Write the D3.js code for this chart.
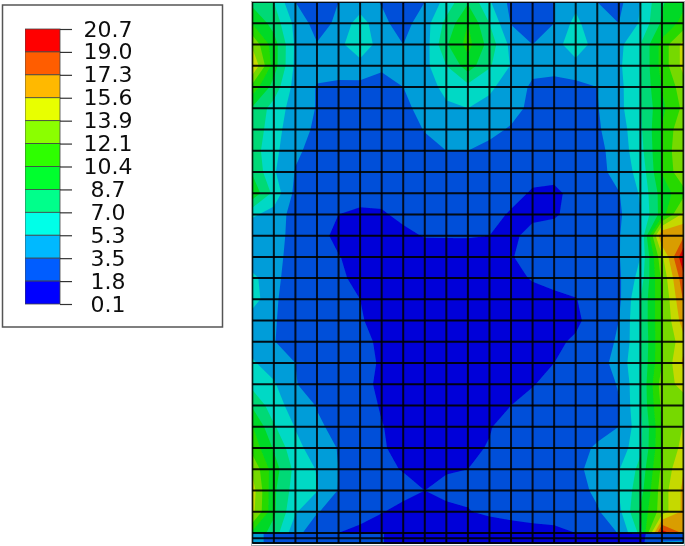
<!DOCTYPE html>
<html><head><meta charset="utf-8">
<script src="https://cdn.jsdelivr.net/npm/d3@7"></script>
<style>html,body{margin:0;padding:0;background:#fff}svg{display:block}</style>
</head><body><svg id="c" width="685" height="546"></svg>
<script>
// contour levels (legend, top to bottom)
const tickLabels = ["20.7","19.0","17.3","15.6","13.9","12.1","10.4","8.7","7.0","5.3","3.5","1.8","0.1"];
const bandColors = ["#FF0000","#FF5D00","#FFB900","#E8FF00","#8BFF00","#2EFF00","#00FF2E","#00FF8B","#00FFE8","#00B9FF","#005DFF","#0000FF"];
const levels = tickLabels.map(Number).reverse();
// mesh node positions, in element units
const columnNodes = d3.range(21);
const rowNodes = [...d3.range(26), 25.03, 25.48];
// nodal values, one row per mesh line
const nodalValues = [
[8.2,7.0,3.5,2.8,3.5,4.2,3.4,1.7,3.5,6.0,8.5,5.5,3.0,1.7,3.5,4.7,3.5,3.0,5.3,8.5,10],
[10.3,8,4.8,2.7,3.9,6.2,3.9,2.8,4.5,7.5,10.4,7.0,3.4,2.5,3.5,5.9,3.5,3.5,5.5,9,11],
[13.5,9.5,5.0,3.6,4.8,6.6,4.4,3.5,4.4,8.5,11,8,4.8,3.5,4.5,6.5,4.4,4.8,7,11,14.5],
[15.8,9.5,4.9,4.0,4.1,4.6,3.9,3.6,4.8,7,9.6,7.2,5.2,4,4,4.6,4.2,5,7,11,14.5],
[11.5,8,4.6,3.4,3.2,3.0,2.6,3.5,4.5,5.8,6.5,5.6,4.5,3.2,3.0,3.0,3.5,4.8,7,10.5,13],
[8.5,6.3,4.5,3.4,2.8,2.7,2.6,3.0,4.2,5.0,5.3,4.8,4.2,3.0,2.7,2.8,3.4,4.8,6.9,10,12.5],
[8.2,6,4.2,3.2,2.6,2.5,2.4,2.6,3.6,4.5,4.5,4.0,3.3,2.6,2.5,2.6,3.3,4.4,6.7,10.5,13.5],
[7.8,5.8,3.8,2.9,2.5,2.4,2.3,2.4,2.9,3.5,3.5,3.0,2.6,2.3,2.3,2.4,3.0,4.3,6.4,10.5,14],
[8.5,5.5,3.4,2.6,2.4,2.3,2.2,2.2,2.3,2.6,2.7,2.5,2.3,2.1,2.1,2.2,2.7,4.4,5.8,10.5,13.5],
[10,6.5,3.0,2.5,2.3,2.2,2.1,2.2,2.2,2.3,2.3,2.3,2.1,1.7,1.6,2.1,2.5,3.4,5.5,9.5,11.5],
[5.6,4.6,2.7,2.3,1.8,1.6,1.7,2.0,2.2,2.3,2.2,2.1,1.7,1.6,1.7,2.1,2.6,3.2,5.2,9.5,14.5],
[3.8,4.4,2.7,2.2,1.5,1.4,1.5,1.6,1.85,1.85,1.85,1.8,1.6,2.1,2.2,2.3,2.7,3.4,5.0,17.5,17],
[4.0,4.2,2.6,2.2,1.85,1.4,1.3,1.3,1.35,1.4,1.45,1.45,1.75,2.1,2.2,2.3,2.7,3.4,5.3,13.5,20.5],
[5.8,4,2.5,2.1,2.0,1.5,1.2,1.2,1.2,1.25,1.3,1.35,1.45,1.9,2.2,2.3,2.6,3.2,6,12.5,18.5],
[6.2,3.8,2.4,2.1,2.0,1.8,1.1,1.1,1.1,1.1,1.1,1.1,1.2,1.3,1.5,1.75,2.4,3.1,7,12,17.5],
[4.2,3.7,2.3,2.1,2.0,1.9,1.4,1.1,1.1,1.0,1.0,1.0,1.1,1.2,1.3,1.6,2.3,3.5,7,12,16.5],
[4.6,3.6,2.3,2.1,2.0,1.95,1.7,1.2,1.1,1.0,1.0,1.05,1.15,1.3,1.6,1.95,2.4,3.8,6.8,12,15],
[5.5,4.5,3.5,2.5,2.2,2.1,1.7,1.3,1.2,1.1,1.1,1.2,1.4,1.6,1.8,2.2,2.7,4.2,7,12,16],
[6.5,5.5,3.6,2.6,2.2,2.1,1.6,1.2,1.1,1.1,1.3,1.4,1.55,1.75,2.1,2.3,2.8,3.6,7,13,14.5],
[8.5,6,4.6,3.4,2.5,2.3,1.7,1.3,1.2,1.3,1.4,1.55,1.8,2.1,2.2,2.3,2.7,3.4,7,12.5,13],
[10.5,7.2,5.2,3.8,3.0,2.5,1.85,1.4,1.4,1.5,1.6,1.75,2.1,2.3,2.4,2.6,3.0,3.5,6.5,12,14],
[11.5,8.5,5.8,4.5,3.4,2.6,1.9,1.5,1.55,1.6,1.65,1.85,2.2,2.4,2.6,3.0,3.7,4.2,6.7,12,14.5],
[13.5,9.5,6.5,5.2,3.5,2.6,2.0,1.75,1.7,1.7,1.8,2.1,2.3,2.5,2.7,3.2,4.0,5.2,7.5,12.5,15.5],
[14.8,9,6.2,5.4,3.4,2.5,2.3,2.1,1.8,2.1,2.0,2.1,2.2,2.3,2.5,2.8,3.9,5.4,8,13,16],
[14.5,9,5.5,3.6,2.8,2.4,1.85,1.5,1.3,1.5,1.75,2.0,2.2,2.4,2.5,2.6,3.3,4.8,9,13,16],
[10,8,4,2.5,1.8,1.4,1.2,1.1,1.0,1.0,1.1,1.1,1.2,1.3,1.4,1.8,2.2,3.6,7.5,20,17],
[4.5,2.6,2.3,2.3,2.2,2,1.85,1.4,1.4,1.4,1.4,1.4,1.4,1.4,1.4,1.4,1.4,1.4,1.4,3,3.2],
[4.5,2.6,2.3,2.3,2.2,2,1.85,1.4,1.4,1.4,1.4,1.4,1.4,1.4,1.4,1.4,1.4,1.4,1.4,3.6,3.6]
];

const svg = d3.select("#c");
const defs = svg.append("defs");
defs.append("filter").attr("id","soft").attr("x",0).attr("y",0).attr("width",1).attr("height",1)
  .append("feGaussianBlur").attr("stdDeviation",0.55);
defs.append("filter").attr("id","softer").attr("x",0).attr("y",0).attr("width",1).attr("height",1)
  .append("feGaussianBlur").attr("stdDeviation",0.35);
defs.append("clipPath").attr("id","plotClip").append("rect")
  .attr("x",252).attr("y",2).attr("width",432).attr("height",542);

// ---- plot ----
const sx = d3.scaleLinear().domain([0,20]).range([252.3,683.5]);
const rowPx = d3.scaleLinear().domain([0,25,25.03,25.48,26]).range([2,533,533.5,543,549]);
const shade = c => { const k=d3.rgb(c); return d3.rgb(k.r*.85,k.g*.85,k.b*.85).formatHex(); };

const nCols = columnNodes.length, nRows = rowNodes.length;
const contours = d3.contours().size([nCols,nRows]).smooth(true).thresholds(levels.slice(0,-1))(nodalValues.flat());
const toRow = v => { // contour coordinate -> row coordinate through the node table
  const t = v-0.5;
  if (t<=0) return rowNodes[0]+t;
  if (t>=nRows-1) return rowNodes[nRows-1]+(t-nRows+1);
  const i=Math.floor(t), f=t-i;
  return rowNodes[i]+(rowNodes[i+1]-rowNodes[i])*f;
};
const path = d3.geoPath(d3.geoTransform({point(x,y){ this.stream.point(sx(x-0.5), rowPx(toRow(y))); }}));
const plot = svg.append("g").attr("clip-path","url(#plotClip)").append("g").attr("filter","url(#soft)");
const colorsUp = bandColors.slice().reverse().map(shade);
plot.selectAll("path.band").data(contours).join("path").attr("class","band")
  .attr("d",path).attr("fill",(d,i)=>colorsUp[i]);
plot.selectAll("line.v").data(columnNodes).join("line").attr("class","v")
  .attr("x1",d=>sx(d)).attr("x2",d=>sx(d)).attr("y1",rowPx(0)).attr("y2",rowPx(25.48))
  .attr("stroke","#000").attr("stroke-opacity",.85).attr("stroke-width",2);
plot.selectAll("line.h").data([...d3.range(26),25.25,25.48]).join("line").attr("class","h")
  .attr("x1",sx(0)).attr("x2",sx(20)).attr("y1",d=>rowPx(d)).attr("y2",d=>rowPx(d))
  .attr("stroke","#000").attr("stroke-opacity",.9).attr("stroke-width",2);
svg.append("rect").attr("x",251.5).attr("y",1.5).attr("width",433).attr("height",544)
  .attr("fill","none").attr("stroke","#aaa").attr("stroke-width",1);

// ---- legend ----
svg.append("rect").attr("x",2.5).attr("y",5).attr("width",220).attr("height",322)
  .attr("fill","#fff").attr("stroke","#555").attr("stroke-width",1.5);
const ly = d3.scalePoint().domain(tickLabels).range([29,304]);
const bands = bandColors.map((c,i)=>({c,a:tickLabels[i],b:tickLabels[i+1]}));
const lg = svg.append("g").attr("filter","url(#softer)");
lg.selectAll("rect.key").data(bands).join("rect").attr("class","key")
  .attr("x",25).attr("width",35).attr("y",d=>ly(d.a)).attr("height",d=>ly(d.b)-ly(d.a))
  .attr("fill",d=>d.c).attr("stroke","#444").attr("stroke-width",.8);
const ax = lg.append("g").attr("transform","translate(60,0)")
  .call(d3.axisRight(ly).tickSize(12).tickPadding(0));
ax.select(".domain").remove();
ax.selectAll(".tick line").attr("stroke","#333").attr("stroke-width",1.2);
ax.selectAll(".tick text").attr("x",48).attr("text-anchor","middle")
  .attr("font-family","'DejaVu Sans',Verdana,sans-serif").attr("font-size",22).attr("fill","#111");
</script></body></html>
